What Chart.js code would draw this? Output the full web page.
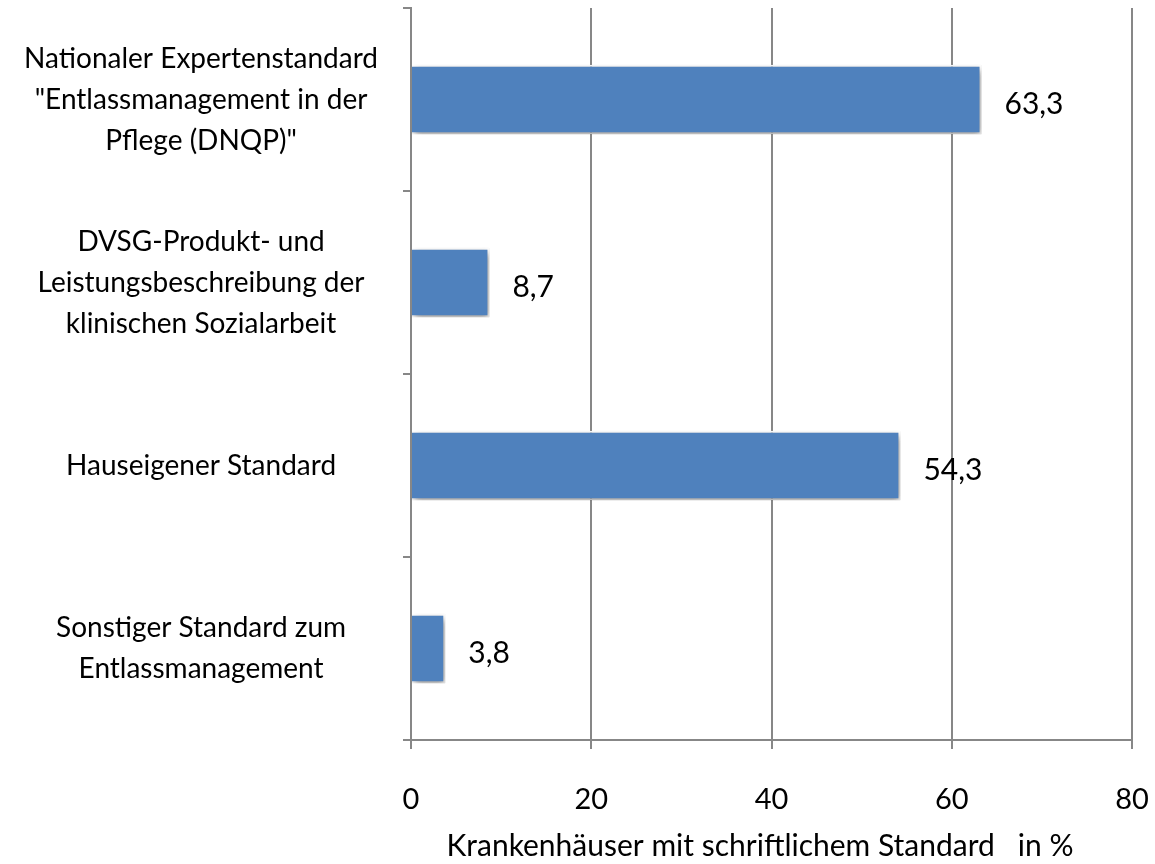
<!DOCTYPE html>
<html>
<head>
<meta charset="utf-8">
<script src="https://cdn.jsdelivr.net/npm/chart.js@4/dist/chart.umd.min.js"></script>
<style>
html,body{margin:0;padding:0;background:#fff;}
#wrap{width:1155px;height:864px;position:relative;}
</style>
</head>
<body>
<div id="wrap"><canvas id="c"></canvas></div>
<script>
const categories = [
  ['Nationaler Expertenstandard', '"Entlassmanagement in der', 'Pflege (DNQP)"'],
  ['DVSG-Produkt- und', 'Leistungsbeschreibung der', 'klinischen Sozialarbeit'],
  ['Hauseigener Standard'],
  ['Sonstiger Standard zum', 'Entlassmanagement']
];
const values = [63.3, 8.7, 54.3, 3.8];
const xTicks = [0, 20, 40, 60, 80];
const xTitle = 'Krankenhäuser mit schriftlichem Standard   in %   ';

const FONT = 'Lato, "Open Sans", sans-serif';
const GRID = '#878787';

const shadowPlugin = {
  id: 'barShadow',
  beforeDatasetsDraw(chart) {
    const ctx = chart.ctx;
    ctx.save();
    ctx.shadowColor = 'rgba(0,0,0,0.45)';
    ctx.shadowBlur = 7;
    ctx.shadowOffsetX = 2;
    ctx.shadowOffsetY = 3;
  },
  afterDatasetsDraw(chart) {
    chart.ctx.restore();
    const ctx = chart.ctx;
    const meta = chart.getDatasetMeta(0);
    ctx.save();
    ctx.font = '30px ' + FONT;
    ctx.fillStyle = '#000';
    ctx.textAlign = 'left';
    ctx.textBaseline = 'middle';
    meta.data.forEach((bar, i) => {
      const txt = values[i].toFixed(1).replace('.', ',');
      ctx.fillText(txt, bar.x + 23, bar.y + 5);
    });
    ctx.restore();
  }
};

new Chart(document.getElementById('c'), {
  type: 'bar',
  data: {
    labels: categories,
    datasets: [{
      data: values,
      backgroundColor: '#4F81BD',
      borderColor: '#ffffff',
      borderWidth: 2,
      borderSkipped: 'left',
      categoryPercentage: 1,
      barPercentage: 0.38
    }]
  },
  options: {
    indexAxis: 'y',
    responsive: true,
    maintainAspectRatio: false,
    animation: false,
    layout: { padding: { top: 8, right: 23, left: 0, bottom: 0 } },
    plugins: { legend: { display: false }, tooltip: { enabled: false } },
    scales: {
      x: {
        min: 0, max: 80,
        afterBuildTicks(scale) { scale.ticks = xTicks.map(v => ({ value: v })); },
        afterFit(scale) { scale.height = 124; scale.paddingLeft = 0; scale.paddingRight = 0; },
        grid: { color: GRID, lineWidth: 2, tickLength: 9, drawTicks: true },
        border: { color: GRID, width: 2 },
        ticks: { color: '#000', font: { family: FONT, size: 29 }, padding: 33 },
        title: {
          display: true, text: xTitle, color: '#000',
          font: { family: FONT, size: 30 }, padding: { top: 0, bottom: 0 }
        }
      },
      y: {
        afterFit(scale) { scale.width = 411; scale.paddingTop = 0; scale.paddingBottom = 0; },
        grid: { drawOnChartArea: false, color: GRID, lineWidth: 2, tickLength: 8, offset: true },
        border: { color: GRID, width: 2 },
        ticks: {
          color: '#000', crossAlign: 'center', padding: 25,
          font: { family: FONT, size: 28, lineHeight: '41px' }
        }
      }
    }
  },
  plugins: [shadowPlugin]
});
</script>
</body>
</html>
